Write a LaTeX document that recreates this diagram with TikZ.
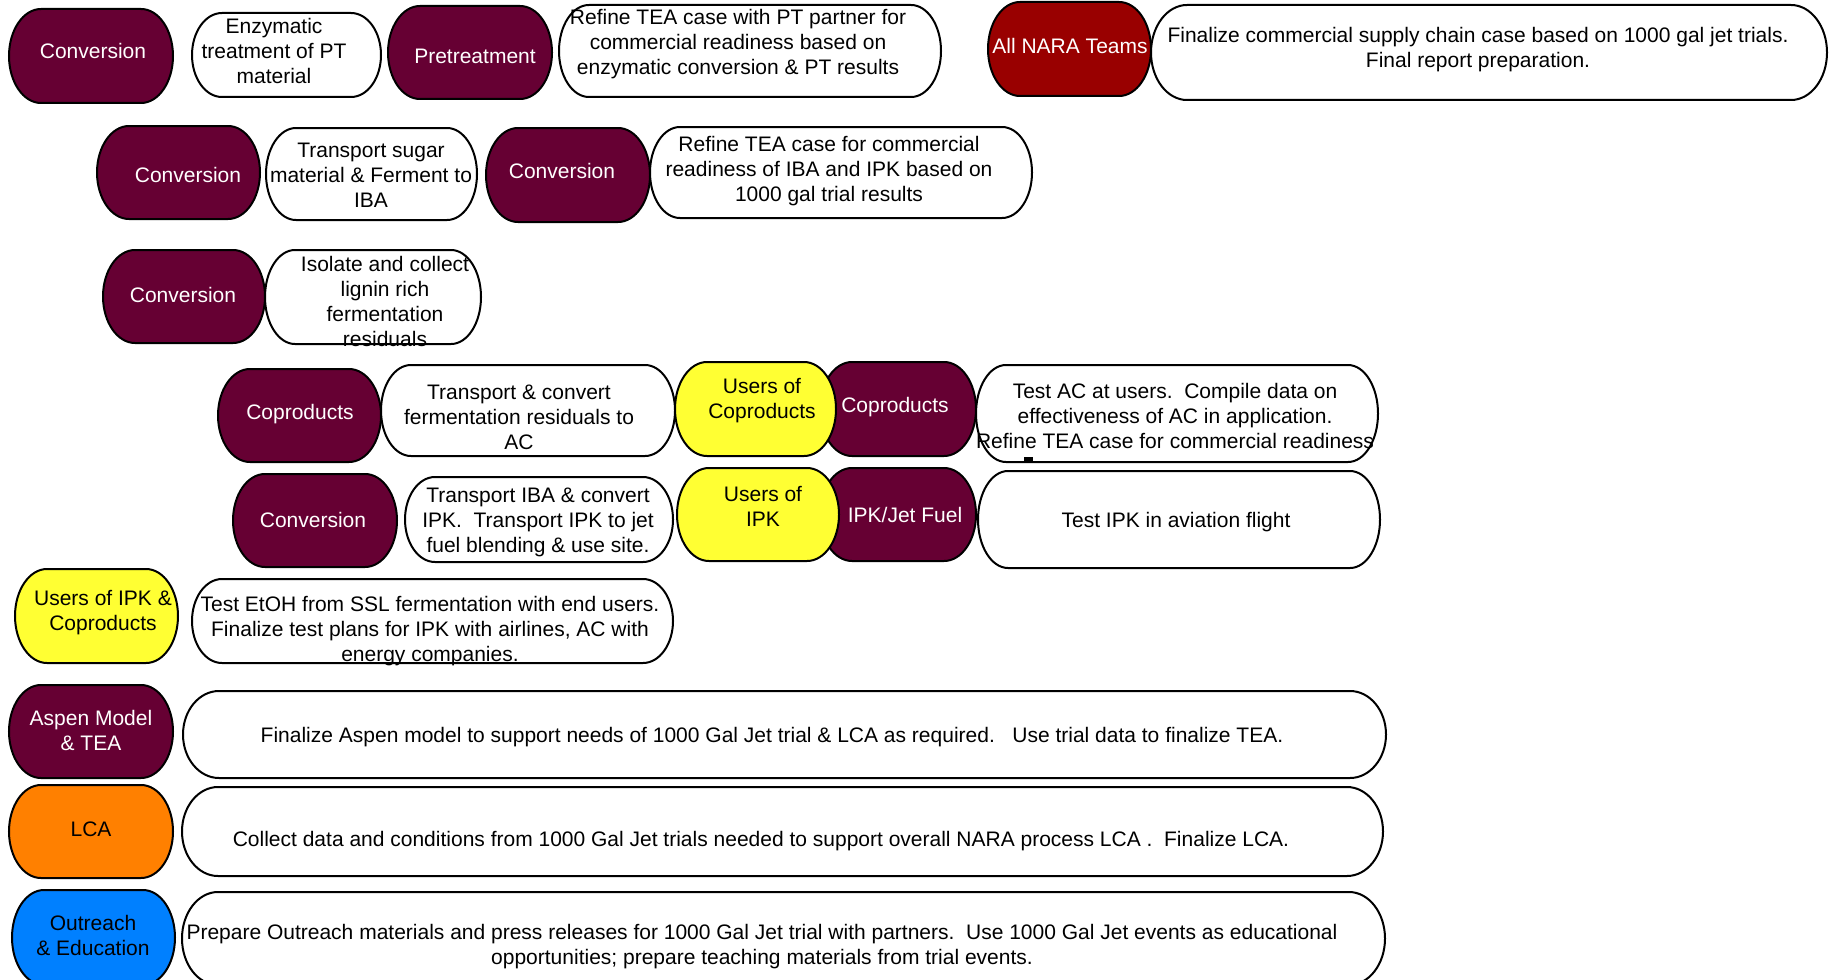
\documentclass[tikz,border=0pt]{standalone}
\usepackage{fontspec}
\setmainfont{Liberation Sans}
\definecolor{maroon}{HTML}{660033}
\definecolor{nara}{HTML}{990000}
\definecolor{ylw}{HTML}{FFFF33}
\definecolor{org}{HTML}{FF8000}
\definecolor{blu}{HTML}{0080FF}
\tikzset{
  pl/.style={draw=black, line width=1pt},
  txt/.style={align=center, inner sep=0pt, yshift=-1.2pt, font=\fontsize{10.5}{12.5}\selectfont},
  wtxt/.style={txt, text=white},
}
% #1 x1, #2 y1, #3 x2, #4 y2, #5 rx, #6 style
\newcommand\pill[6]{%
  \path[pl,#6] (#1+#5,#2) -- (#3-#5,#2)
    .. controls (#3-0.448*#5,#2) and (#3,{#2+0.448*(#4-#2)/2}) .. (#3,{(#2+#4)/2})
    .. controls (#3,{#4-0.448*(#4-#2)/2}) and (#3-0.448*#5,#4) .. (#3-#5,#4)
    -- (#1+#5,#4)
    .. controls (#1+0.448*#5,#4) and (#1,{#4-0.448*(#4-#2)/2}) .. (#1,{(#2+#4)/2})
    .. controls (#1,{#2+0.448*(#4-#2)/2}) and (#1+0.448*#5,#2) .. (#1+#5,#2) -- cycle;}
\begin{document}
\begin{tikzpicture}[x=0.5pt,y=-0.5pt]
\useasboundingbox (0,0) rectangle (1829,979);
\clip (0,0) rectangle (1829,979);
% Row 1
\pill{9}{9}{173}{103}{32}{fill=maroon}
\node[wtxt] (c1) at (93,49) {Conversion};
\pill{192}{13}{381}{97}{30}{fill=white}
\node[txt] (t1) at (274,49) {Enzymatic\\treatment of PT\\material};
\pill{388}{6}{552}{99}{32}{fill=maroon}
\node[wtxt] (p1) at (475,54) {Pretreatment};
\pill{559}{5}{941}{97}{30}{fill=white}
\node[txt] (t2) at (738,42) {Refine TEA case with PT partner for\\commercial readiness based on\\enzymatic conversion \& PT results};
\pill{988}{2}{1151}{96}{32}{fill=nara}
\node[wtxt] (nara) at (1070,44) {All NARA Teams};
\pill{1151}{5}{1827}{100}{36}{fill=white}
\node[txt] (t3) at (1478,47) {Finalize commercial supply chain case based on 1000 gal jet trials.\\Final report preparation.};
% Row 2
\pill{97}{126}{260}{219}{32}{fill=maroon}
\node[wtxt] (c2) at (188,173) {Conversion};
\pill{266}{128}{477}{220}{30}{fill=white}
\node[txt] (t4) at (371,173) {Transport sugar\\material \& Ferment to\\IBA};
\pill{486}{128}{650}{222}{32}{fill=maroon}
\node[wtxt] (c3) at (562,169) {Conversion};
\pill{650}{127}{1032}{218}{30}{fill=white}
\node[txt] (t5) at (829,169) {Refine TEA case for commercial\\readiness of IBA and IPK based on\\1000 gal trial results};
% Row 3
\pill{103}{250}{265}{343}{32}{fill=maroon}
\node[wtxt] (c4) at (183,293) {Conversion};
\pill{265}{250}{481}{344}{30}{fill=white}
\node[txt] (t6) at (385,299) {Isolate and collect\\lignin rich\\fermentation\\residuals};
% Row 4
\pill{218}{369}{381}{462}{32}{fill=maroon}
\node[wtxt] (cp1) at (300,412) {Coproducts};
\pill{381}{365}{675}{456}{30}{fill=white}
\node[txt] (t7) at (519,415) {Transport \& convert\\fermentation residuals to\\AC};
\pill{820}{362}{976}{456}{32}{fill=maroon}
\pill{675}{362}{836}{456}{32}{fill=ylw}
\node[txt] (u1) at (762,398) {Users of\\Coproducts};
\node[wtxt] (cp2) at (895,405) {Coproducts};
\pill{976}{365}{1378}{462}{30}{fill=white}
\node[txt] (t8) at (1175,414) {Test AC at users.\ \ Compile data on\\effectiveness of AC in application.\\Refine TEA case for commercial readiness};
\fill (1024,457) rectangle (1033,461);
% Row 5
\pill{233}{474}{397}{567}{32}{fill=maroon}
\node[wtxt] (c5) at (313,518) {Conversion};
\pill{405}{477}{673}{562}{30}{fill=white}
\node[txt] (t9) at (538,520) {Transport IBA \& convert\\IPK.\ \ Transport IPK to jet\\fuel blending \& use site.};
\pill{820}{468}{976}{561}{32}{fill=maroon}
\pill{677}{468}{839}{561}{32}{fill=ylw}
\node[txt] (u2) at (763,504) {Users of\\IPK};
\node[wtxt] (jet) at (905,513) {IPK/Jet Fuel};
\pill{978}{471}{1380}{568}{30}{fill=white}
\node[txt] (t10) at (1176,520) {Test IPK in aviation flight};
% Row 6
\pill{15}{569}{178}{663}{32}{fill=ylw}
\node[txt] (u3) at (103,610) {Users of IPK \&\\Coproducts};
\pill{192}{579}{673}{663}{30}{fill=white}
\node[txt] (t11) at (430,629) {Test EtOH from SSL fermentation with end users.\\Finalize test plans for IPK with airlines, AC with\\energy companies.};
% Row 7
\pill{9}{685}{173}{778}{32}{fill=maroon}
\node[wtxt] (asp) at (91,728) {Aspen Model\\\& TEA};
\pill{183}{691}{1386}{778}{36}{fill=white}
\node[txt] (t12) at (772,735) {Finalize Aspen model to support needs of 1000 Gal Jet trial \& LCA as required.\ \ \ Use trial data to finalize TEA.};
% Row 8
\pill{9}{785}{173}{878}{32}{fill=org}
\node[txt] (lca) at (91,827) {LCA};
\pill{182}{787}{1383}{876}{36}{fill=white}
\node[txt] (t13) at (761,839) {Collect data and conditions from 1000 Gal Jet trials needed to support overall NARA process LCA .\ \ Finalize LCA.};
% Row 9
\pill{12}{890}{175}{985}{32}{fill=blu}
\node[txt] (out) at (93,933) {Outreach\\\& Education};
\pill{182}{892}{1385}{985}{36}{fill=white}
\node[txt] (t14) at (762,944) {Prepare Outreach materials and press releases for 1000 Gal Jet trial with partners.\ \ Use 1000 Gal Jet events as educational\\opportunities; prepare teaching materials from trial events.};
\end{tikzpicture}
\end{document}
